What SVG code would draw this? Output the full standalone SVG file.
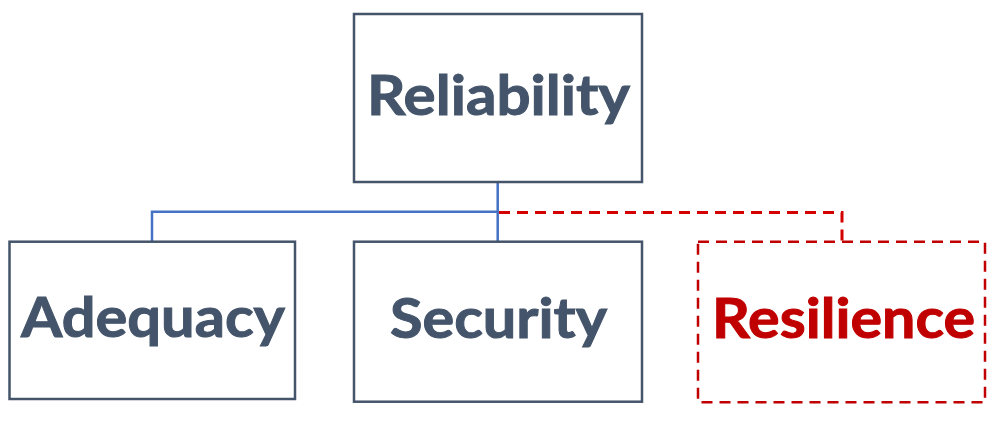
<svg xmlns="http://www.w3.org/2000/svg" width="1000" height="422" viewBox="0 0 1000 422">
<style>
.box{fill:#ffffff;stroke:#44546A;stroke-width:2.5}
.dbox{fill:#ffffff;stroke:#C00000;stroke-width:2.5;stroke-dasharray:11 7}
.lbl{font-family:Lato,"Open Sans","Liberation Sans",sans-serif;font-weight:bold;font-size:56px;fill:#44546A;stroke:#44546A;stroke-width:1}
.red{fill:#C00000;stroke:#C00000}
.conn{fill:none;stroke:#4472C4;stroke-width:2.5}
.dconn{fill:none;stroke:#D40000;stroke-width:3;stroke-dasharray:11 7}
</style>
<rect width="1000" height="422" fill="#ffffff"/>
<g id="connectors">
<path class="conn" d="M497.7 182 V241.7 M497.7 211.7 H152 V241.7"/>
<path class="dconn" d="M499 212.5 H842 V241.7"/>
</g>
<g id="reliability">
<rect class="box" x="354" y="14" width="288" height="168"/>
<text class="lbl" x="367" y="115" textLength="263" lengthAdjust="spacingAndGlyphs">Reliability</text>
</g>
<g id="adequacy">
<rect class="box" x="9.5" y="241.7" width="285.5" height="157.3"/>
<text class="lbl" x="21" y="337" textLength="264" lengthAdjust="spacingAndGlyphs">Adequacy</text>
</g>
<g id="security">
<rect class="box" x="354" y="241.7" width="288" height="160"/>
<text class="lbl" x="390" y="338" textLength="217" lengthAdjust="spacingAndGlyphs">Security</text>
</g>
<g id="resilience">
<rect class="dbox" x="698" y="241.7" width="287" height="160.5"/>
<text class="lbl red" x="712" y="338" textLength="263" lengthAdjust="spacingAndGlyphs">Resilience</text>
</g>
</svg>
